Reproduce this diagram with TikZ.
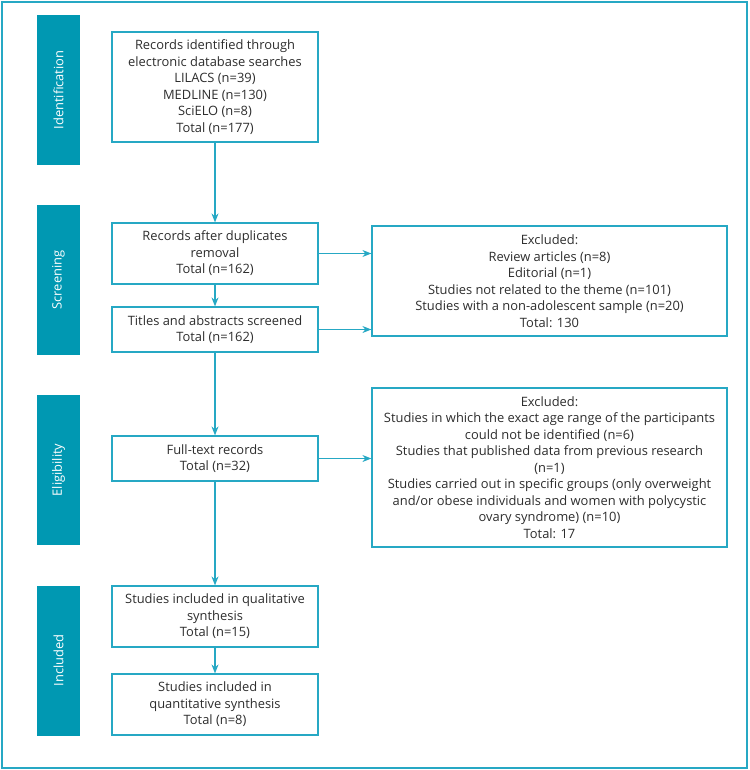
\documentclass[tikz,border=0pt]{standalone}
\usepackage{fontspec}
\setmainfont{Open Sans}
\usetikzlibrary{arrows.meta}
\definecolor{frameblue}{RGB}{38,168,196}
\definecolor{barblue}{RGB}{0,152,178}
\definecolor{textgray}{RGB}{45,45,45}
\tikzset{
    flowbox/.style={draw=frameblue,line width=1.2pt,align=center,inner sep=2pt,
        text=textgray,font=\fontsize{12.9}{16.5}\selectfont},
    phasebar/.style={fill=barblue,draw=none,minimum width=43pt,minimum height=150pt,
        text=white,font=\fontsize{12.9}{14}\selectfont},
    flowarrow/.style={draw=frameblue,line width=1.1pt,-{Stealth[length=9pt,width=7pt]}}
}
\begin{document}
\begin{tikzpicture}[x=1pt,y=-1pt]
    \useasboundingbox (0,0) rectangle (749,770);
    %% outer frame
    \draw[frameblue,line width=1.2pt] (2,2) rectangle (747,768);
    %% phases
    \node[phasebar] (identification) at (58.5,90) {\rotatebox{90}{Identification}};
    \node[phasebar] (screening) at (58.5,280) {\rotatebox{90}{Screening}};
    \node[phasebar] (eligibility) at (58.5,470) {\rotatebox{90}{Eligibility}};
    \node[phasebar] (included) at (58.5,660.5) {\rotatebox{90}{Included}};
    %% main column
    \node[flowbox,minimum width=206pt,minimum height=110pt] (records) at (215,87)
        {Records identified through\\electronic database searches\\LILACS (n=39)\\MEDLINE (n=130)\\SciELO (n=8)\\Total (n=177)};
    \node[flowbox,minimum width=206pt,minimum height=61pt] (duplicates) at (215,253.5)
        {Records after duplicates\\removal\\Total (n=162)};
    \node[flowbox,minimum width=206pt,minimum height=45pt] (titles) at (215,329.5)
        {Titles and abstracts screened\\Total (n=162)};
    \node[flowbox,minimum width=206pt,minimum height=45pt] (fulltext) at (215,458.5)
        {Full-text records\\Total (n=32)};
    \node[flowbox,minimum width=206pt,minimum height=61pt] (qualitative) at (215,616.5)
        {Studies included in qualitative\\synthesis\\Total (n=15)};
    \node[flowbox,minimum width=206pt,minimum height=61pt] (quantitative) at (215,704.5)
        {Studies included in\\quantitative synthesis\\Total (n=8)};
    %% excluded boxes
    \node[flowbox,minimum width=355pt,minimum height=110pt] (excludedA) at (549.5,281)
        {Excluded:\\Review articles (n=8)\\Editorial (n=1)\\Studies not related to the theme (n=101)\\Studies with a non-adolescent sample (n=20)\\Total: 130};
    \node[flowbox,minimum width=355pt,minimum height=159pt] (excludedB) at (549.5,467.5)
        {Excluded:\\Studies in which the exact age range of the participants\\could not be identified (n=6)\\Studies that published data from previous research\\(n=1)\\Studies carried out in specific groups (only overweight\\and/or obese individuals and women with polycystic\\ovary syndrome) (n=10)\\Total: 17};
    %% arrows
    \draw[flowarrow] (records) -- (duplicates);
    \draw[flowarrow] (duplicates) -- (titles);
    \draw[flowarrow] (titles) -- (fulltext);
    \draw[flowarrow] (fulltext) -- (qualitative);
    \draw[flowarrow] (qualitative) -- (quantitative);
    \draw[flowarrow] (duplicates.east) -- (duplicates.east -| excludedA.west);
    \draw[flowarrow] (titles.east) -- (titles.east -| excludedA.west);
    \draw[flowarrow] (fulltext.east) -- (fulltext.east -| excludedB.west);
\end{tikzpicture}
\end{document}
